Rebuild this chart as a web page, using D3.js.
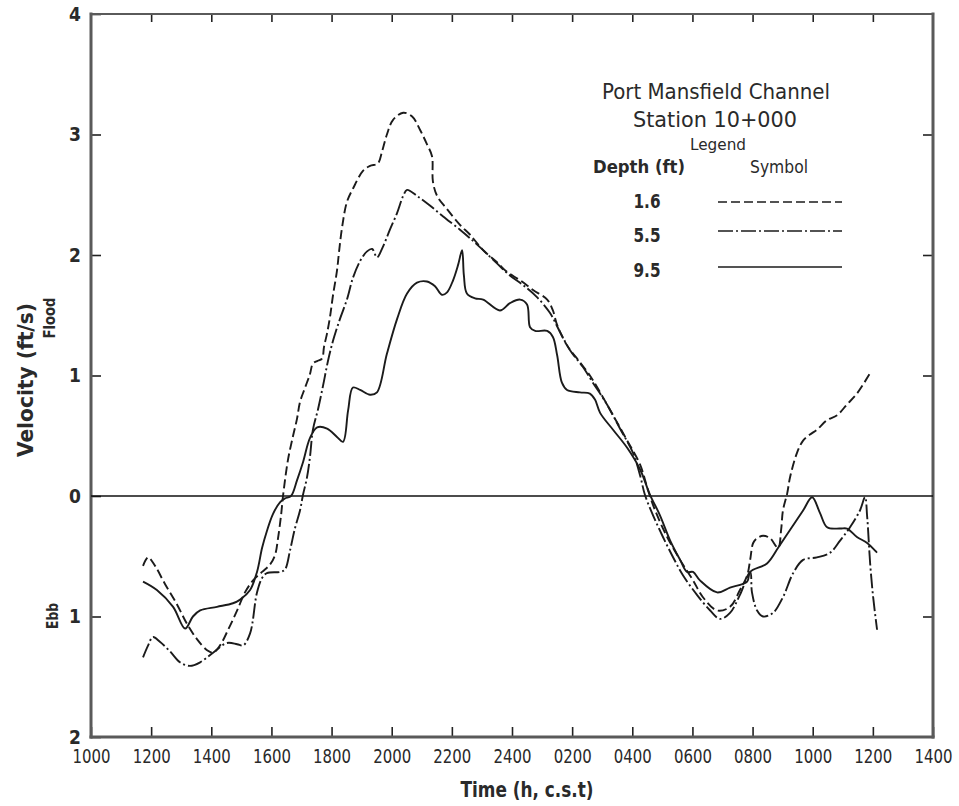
<!DOCTYPE html>
<html>
<head>
<meta charset="utf-8">
<script src="https://cdn.jsdelivr.net/npm/d3@7"></script>
<style>
  html, body { margin: 0; padding: 0; background: #fff; }
  svg { display: block; }
  text { font-family: "DejaVu Sans Condensed", "Liberation Sans Narrow", "DejaVu Sans", sans-serif; fill: #2a2a2a; }
</style>
</head>
<body>
<svg id="chart" width="959" height="806"></svg>
<script>
// Time axis: hours counted from 1000 on day one (10) to 1400 on day two (38)
const timeTicks = [10, 12, 14, 16, 18, 20, 22, 24, 26, 28, 30, 32, 34, 36, 38];
const timeLabels = ["1000", "1200", "1400", "1600", "1800", "2000", "2200", "2400",
                    "0200", "0400", "0600", "0800", "1000", "1200", "1400"];
// Velocity axis: positive = flood, negative = ebb (labelled by magnitude)
const velTicks = [4, 3, 2, 1, 0, -1, -2];
const velLabels = ["4", "3", "2", "1", "0", "1", "2"];

// Depth 1.6 ft  [hour, velocity ft/s]
const depth16 = [
  [11.73,-0.58],[11.90,-0.51],[12.13,-0.58],[12.46,-0.73],[12.86,-0.90],[13.19,-1.06],
  [13.53,-1.19],[13.86,-1.28],[14.06,-1.30],[14.29,-1.24],[14.56,-1.11],[14.86,-0.95],
  [15.12,-0.80],[15.39,-0.70],[15.69,-0.63],[15.95,-0.57],[16.12,-0.49],[16.22,-0.35],
  [16.32,-0.16],[16.39,0.01],[16.55,0.30],[16.72,0.50],[16.85,0.64],[16.95,0.78],
  [17.12,0.90],[17.28,1.01],[17.38,1.10],[17.52,1.12],[17.68,1.14],[17.75,1.24],
  [17.85,1.35],[17.95,1.49],[18.05,1.67],[18.18,1.87],[18.25,2.03],[18.35,2.23],
  [18.51,2.44],[18.71,2.55],[19.05,2.70],[19.28,2.74],[19.54,2.76],[19.68,2.86],
  [19.84,3.00],[20.04,3.12],[20.38,3.18],[20.68,3.15],[20.94,3.04],[21.17,2.92],
  [21.34,2.82],[21.37,2.61],[21.51,2.49],[21.84,2.38],[22.27,2.25],[22.60,2.17],
  [23.04,2.04],[23.50,1.94],[23.83,1.86],[24.27,1.79],[24.70,1.71],[25.17,1.63],
  [25.36,1.54],[25.50,1.42],[25.83,1.25],[26.26,1.11],[26.59,1.00],[26.93,0.86],
  [27.36,0.67],[27.83,0.46],[28.26,0.26],[28.52,0.05],[28.76,-0.12],[29.16,-0.34],
  [29.59,-0.53],[30.02,-0.70],[30.35,-0.84],[30.82,-0.95],[31.25,-0.92],[31.58,-0.78],
  [31.82,-0.66],[31.92,-0.53],[32.02,-0.39],[32.15,-0.35],[32.35,-0.33],[32.58,-0.35],
  [32.85,-0.43],[32.95,-0.28],[33.01,-0.12],[33.15,0.02],[33.25,0.16],[33.48,0.36],
  [33.68,0.46],[33.91,0.51],[34.14,0.55],[34.48,0.63],[34.81,0.67],[35.14,0.76],
  [35.47,0.85],[35.91,1.02]
];

// Depth 5.5 ft
const depth55 = [
  [11.73,-1.34],[11.90,-1.24],[12.06,-1.17],[12.29,-1.21],[12.63,-1.29],[12.96,-1.38],
  [13.29,-1.41],[13.63,-1.38],[14.06,-1.30],[14.52,-1.22],[14.86,-1.23],[15.06,-1.24],
  [15.29,-1.14],[15.52,-0.80],[15.69,-0.68],[15.85,-0.64],[16.29,-0.63],[16.45,-0.61],
  [16.62,-0.45],[16.78,-0.27],[16.95,-0.12],[17.05,0.01],[17.18,0.15],[17.28,0.32],
  [17.38,0.55],[17.55,0.72],[17.72,0.92],[17.88,1.12],[18.05,1.29],[18.28,1.47],
  [18.51,1.63],[18.71,1.81],[18.95,1.95],[19.18,2.03],[19.35,2.05],[19.51,1.98],
  [19.71,2.07],[19.94,2.21],[20.18,2.35],[20.38,2.49],[20.51,2.54],[20.84,2.49],
  [21.27,2.41],[21.71,2.32],[22.27,2.21],[22.60,2.14],[23.04,2.04],[23.50,1.93],
  [23.93,1.83],[24.37,1.75],[24.83,1.65],[25.26,1.52],[25.60,1.36],[25.93,1.21],
  [26.36,1.07],[26.69,0.94],[27.16,0.76],[27.59,0.56],[28.02,0.36],[28.26,0.17],
  [28.42,0.01],[28.69,-0.16],[29.02,-0.34],[29.36,-0.51],[29.69,-0.66],[30.15,-0.82],
  [30.59,-0.95],[30.92,-1.02],[31.25,-0.97],[31.58,-0.82],[31.92,-0.63],[31.98,-0.80],
  [32.15,-0.95],[32.35,-1.00],[32.68,-0.97],[33.01,-0.84],[33.35,-0.64],[33.68,-0.53],
  [34.14,-0.51],[34.58,-0.47],[34.91,-0.37],[35.24,-0.26],[35.57,-0.12],[35.74,-0.01],
  [35.81,-0.17],[35.91,-0.56],[36.01,-0.84],[36.14,-1.11]
];

// Depth 9.5 ft
const depth95 = [
  [11.73,-0.71],[12.19,-0.78],[12.73,-0.92],[13.13,-1.10],[13.39,-1.00],[13.63,-0.95],
  [14.19,-0.92],[14.72,-0.89],[14.96,-0.86],[15.29,-0.78],[15.52,-0.63],[15.69,-0.43],
  [15.85,-0.29],[16.05,-0.15],[16.29,-0.05],[16.45,-0.02],[16.65,0.00],[16.85,0.13],
  [17.05,0.28],[17.28,0.48],[17.52,0.57],[17.85,0.56],[18.18,0.49],[18.38,0.45],
  [18.55,0.71],[18.71,0.90],[18.95,0.88],[19.28,0.84],[19.51,0.86],[19.84,1.18],
  [20.18,1.47],[20.51,1.68],[20.84,1.77],[21.17,1.78],[21.44,1.74],[21.67,1.67],
  [21.84,1.69],[22.04,1.79],[22.21,1.92],[22.34,2.04],[22.40,1.83],[22.50,1.68],
  [22.77,1.64],[23.04,1.63],[23.60,1.54],[23.93,1.60],[24.27,1.63],[24.50,1.59],
  [24.60,1.40],[24.77,1.37],[25.17,1.37],[25.36,1.32],[25.50,1.17],[25.66,0.94],
  [25.83,0.88],[26.26,0.86],[26.59,0.85],[26.76,0.80],[26.93,0.69],[27.36,0.55],
  [27.83,0.40],[28.26,0.22],[28.59,0.01],[28.92,-0.16],[29.26,-0.37],[29.59,-0.53],
  [29.82,-0.63],[30.02,-0.63],[30.25,-0.70],[30.82,-0.80],[31.25,-0.76],[31.82,-0.71],
  [31.92,-0.63],[32.48,-0.56],[32.85,-0.43],[33.25,-0.28],[33.68,-0.12],[33.98,-0.01],
  [34.24,-0.14],[34.48,-0.26],[34.91,-0.27],[35.14,-0.27],[35.47,-0.34],[35.81,-0.39],
  [36.14,-0.47]
];

const series = [
  { name: "1.6", data: depth16, dash: "9,4" },
  { name: "5.5", data: depth55, dash: "15,3,2,3" },
  { name: "9.5", data: depth95, dash: null }
];

const svg = d3.select("#chart");
const x = d3.scaleLinear().domain([10, 38]).range([91, 933]);
const y = d3.scaleLinear().domain([-2, 4]).range([737, 14]);

const frameColor = "#5a5a5a";

// Tick marks (drawn inward)
const topAxis = svg.append("g").attr("transform", `translate(0,${y(4)})`)
  .call(d3.axisTop(x).tickValues(timeTicks.slice(1, -1)).tickSizeInner(-8).tickSizeOuter(0).tickFormat(""));
const bottomAxis = svg.append("g").attr("transform", `translate(0,${y(-2)})`)
  .call(d3.axisBottom(x).tickValues(timeTicks).tickSizeInner(-10).tickSizeOuter(0).tickPadding(13)
    .tickFormat((d, i) => timeLabels[i]));
const leftAxis = svg.append("g").attr("transform", `translate(${x(10)},0)`)
  .call(d3.axisLeft(y).tickValues(velTicks).tickSizeInner(-10).tickSizeOuter(0).tickPadding(10)
    .tickFormat((d, i) => velLabels[i]));
const rightAxis = svg.append("g").attr("transform", `translate(${x(38)},0)`)
  .call(d3.axisRight(y).tickValues([3, 2, 1, -1]).tickSizeInner(-10).tickSizeOuter(0).tickFormat(""));

[topAxis, bottomAxis, leftAxis, rightAxis].forEach(g => {
  g.select(".domain").remove();
  g.selectAll(".tick line").attr("stroke", "#222").attr("stroke-width", 1.6);
});
bottomAxis.selectAll(".tick text")
  .attr("font-size", 19).attr("fill", "#2a2a2a")
  .attr("textLength", 38).attr("lengthAdjust", "spacingAndGlyphs");
leftAxis.selectAll(".tick text")
  .attr("font-size", 19).attr("font-weight", "bold").attr("fill", "#404040");

// Plot frame
const frame = svg.append("g").attr("stroke", frameColor).attr("stroke-linecap", "square");
frame.append("line").attr("x1", x(10)).attr("x2", x(38)).attr("y1", y(4)).attr("y2", y(4)).attr("stroke-width", 2.2);
frame.append("line").attr("x1", x(10)).attr("x2", x(38)).attr("y1", y(-2)).attr("y2", y(-2)).attr("stroke-width", 3);
frame.append("line").attr("x1", x(10)).attr("x2", x(10)).attr("y1", y(4)).attr("y2", y(-2)).attr("stroke-width", 3);
frame.append("line").attr("x1", x(38)).attr("x2", x(38)).attr("y1", y(4)).attr("y2", y(-2)).attr("stroke-width", 3);

// Slack-water line
svg.append("line")
  .attr("x1", x(10)).attr("x2", x(38)).attr("y1", y(0)).attr("y2", y(0))
  .attr("stroke", "#111").attr("stroke-width", 1.6);

// Velocity curves
const line = d3.line()
  .x(d => x(d[0])).y(d => y(d[1]))
  .curve(d3.curveCatmullRom.alpha(0.5));

svg.append("g").selectAll("path").data(series).join("path")
  .attr("d", d => line(d.data))
  .attr("fill", "none")
  .attr("stroke", "#1b1b1b")
  .attr("stroke-width", 1.9)
  .attr("stroke-linejoin", "round")
  .attr("stroke-dasharray", d => d.dash);

// Axis titles
svg.append("text").attr("x", 527).attr("y", 797).attr("text-anchor", "middle")
  .attr("font-size", 21).attr("font-weight", "bold").attr("fill", "#3a3a3a")
  .attr("textLength", 133).attr("lengthAdjust", "spacingAndGlyphs")
  .text("Time (h, c.s.t)");
svg.append("text").attr("transform", "translate(33,380) rotate(-90)").attr("text-anchor", "middle")
  .attr("font-size", 21).attr("font-weight", "bold").attr("fill", "#555")
  .attr("textLength", 154).attr("lengthAdjust", "spacingAndGlyphs")
  .text("Velocity (ft/s)");
svg.append("text").attr("transform", "translate(55,318) rotate(-90)").attr("text-anchor", "middle")
  .attr("font-size", 15).attr("font-weight", "bold").attr("fill", "#222")
  .attr("textLength", 41).attr("lengthAdjust", "spacingAndGlyphs")
  .text("Flood");
svg.append("text").attr("transform", "translate(58,616) rotate(-90)").attr("text-anchor", "middle")
  .attr("font-size", 15).attr("font-weight", "bold").attr("fill", "#555")
  .attr("textLength", 26).attr("lengthAdjust", "spacingAndGlyphs")
  .text("Ebb");

// Legend block
const legend = svg.append("g");
legend.append("text").attr("x", 716).attr("y", 99).attr("text-anchor", "middle")
  .attr("font-size", 22).attr("fill", "#3a3a3a")
  .attr("textLength", 228).attr("lengthAdjust", "spacingAndGlyphs")
  .text("Port Mansfield Channel");
legend.append("text").attr("x", 715).attr("y", 127).attr("text-anchor", "middle")
  .attr("font-size", 22).attr("fill", "#3a3a3a")
  .attr("textLength", 164).attr("lengthAdjust", "spacingAndGlyphs")
  .text("Station 10+000");
legend.append("text").attr("x", 718).attr("y", 150).attr("text-anchor", "middle")
  .attr("font-size", 16).attr("fill", "#555")
  .attr("textLength", 56).attr("lengthAdjust", "spacingAndGlyphs")
  .text("Legend");
legend.append("text").attr("x", 639).attr("y", 173).attr("text-anchor", "middle")
  .attr("font-size", 17).attr("font-weight", "bold").attr("fill", "#2a2a2a")
  .attr("textLength", 92).attr("lengthAdjust", "spacingAndGlyphs")
  .text("Depth (ft)");
legend.append("text").attr("x", 779).attr("y", 173).attr("text-anchor", "middle")
  .attr("font-size", 17).attr("fill", "#2a2a2a")
  .attr("textLength", 58).attr("lengthAdjust", "spacingAndGlyphs")
  .text("Symbol");

const legendRows = [208, 242, 277];
const legendLineY = [202, 231, 267];
series.forEach((s, i) => {
  legend.append("text").attr("x", 647).attr("y", legendRows[i]).attr("text-anchor", "middle")
    .attr("font-size", 19).attr("font-weight", "bold").attr("fill", "#222")
    .attr("textLength", 27).attr("lengthAdjust", "spacingAndGlyphs")
    .text(s.name);
  legend.append("line").attr("x1", 718).attr("x2", 842)
    .attr("y1", legendLineY[i]).attr("y2", legendLineY[i])
    .attr("stroke", "#1b1b1b").attr("stroke-width", 1.7)
    .attr("stroke-dasharray", s.dash);
});
</script>
</body>
</html>
